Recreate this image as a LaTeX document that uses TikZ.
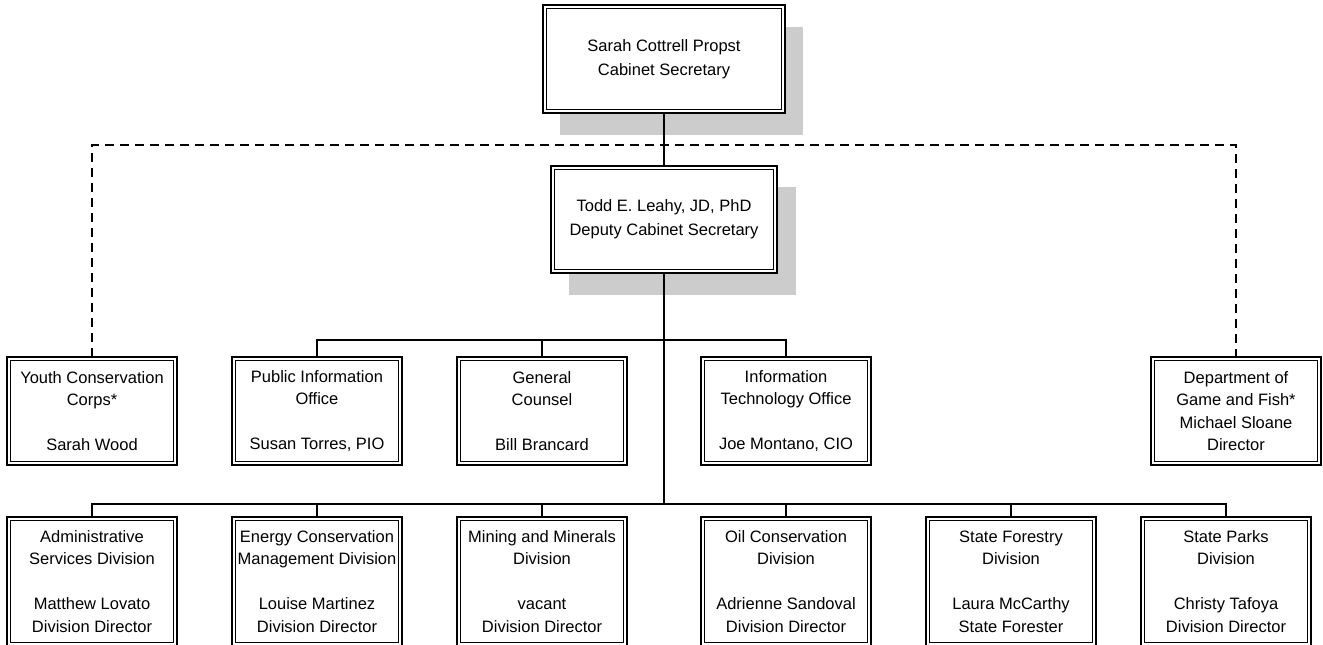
\documentclass[tikz,border=0pt]{standalone}
\usepackage{fontspec}
\setmainfont{Liberation Sans}
\usetikzlibrary{calc}
\def\innerframe(#1){\draw[line width=0.9bp] ([shift={(3.5bp,-3.5bp)}]#1.north west) rectangle ([shift={(-3.5bp,3.5bp)}]#1.south east);}
\tikzset{
	orgbox/.style={draw, line width=1.6bp, fill=white, inner sep=0pt, outer sep=0pt, align=center,
		minimum width=170bp, minimum height=108bp, font=\fontsize{16.5bp}{22.5bp}\selectfont},
	headbox/.style={orgbox, font=\fontsize{16.5bp}{24bp}\selectfont},
	divbox/.style={orgbox, minimum height=129bp},
	shadowbox/.style={fill=black!20, draw=none},
	link/.style={line width=1.2bp},
	trunk/.style={line width=1.8bp},
	dashlink/.style={line width=1.2bp, dash pattern=on 9bp off 6bp},
}

\begin{document}
\begin{tikzpicture}[x=1bp, y=-1bp]
			%%%%% START %%%%%
			\useasboundingbox (0, 0) rectangle (1323, 645);
			\clip (0, 0) rectangle (1323, 645);
			
			\fill[shadowbox] (560, 27) rectangle (803, 135);
			\fill[shadowbox] (569, 187) rectangle (796, 295);
			
			\node[headbox, minimum width=242bp] (sec) at (664, 59) {Sarah Cottrell Propst\\Cabinet Secretary};
			\node[headbox, minimum width=226bp, minimum height=107bp] (dep) at (664, 219.5) {Todd E. Leahy, JD, PhD\\Deputy Cabinet Secretary};
			
			\node[orgbox] (ycc) at (92, 411) {Youth Conservation\\Corps*\\[22.5bp]Sarah Wood};
			\node[orgbox] (pio) at (317, 411) {Public Information\\Office\\[22.5bp]Susan Torres, PIO};
			\node[orgbox] (gc) at (542, 411) {General\\Counsel\\[22.5bp]Bill Brancard};
			\node[orgbox] (ito) at (786, 411) {Information\\Technology Office\\[22.5bp]Joe Montano, CIO};
			\node[orgbox] (dgf) at (1236, 411) {Department of\\Game and Fish*\\Michael Sloane\\Director};
			
			\node[divbox] (asd) at (92, 581.5) {Administrative\\Services Division\\[22.5bp]Matthew Lovato\\Division Director};
			\node[divbox] (ecm) at (317, 581.5) {Energy Conservation\\Management Division\\[22.5bp]Louise Martinez\\Division Director};
			\node[divbox] (mmd) at (542, 581.5) {Mining and Minerals\\Division\\[22.5bp]vacant\\Division Director};
			\node[divbox] (ocd) at (786, 581.5) {Oil Conservation\\Division\\[22.5bp]Adrienne Sandoval\\Division Director};
			\node[divbox] (sfd) at (1011, 581.5) {State Forestry\\Division\\[22.5bp]Laura McCarthy\\State Forester};
			\node[divbox] (spd) at (1226, 581.5) {State Parks\\Division\\[22.5bp]Christy Tafoya\\Division Director};
			
			\foreach \n in {sec, dep, ycc, pio, gc, ito, dgf, asd, ecm, mmd, ocd, sfd, spd}
				{\innerframe(\n)}
			
			\coordinate (dashbar) at (664, 145);
			\coordinate (midbar) at (664, 340);
			\coordinate (lowbar) at (664, 504);
			
			\draw[link] (sec.south) -- (dep.north);
			\draw[dashlink] (ycc.north) |- (dashbar) -| (dgf.north);
			\draw[trunk] (dep.south) -- (lowbar);
			
			\draw[trunk] (pio.north) |- (midbar);
			\draw[link] (midbar) -| (ito.north);
			\draw[link] (gc.north) |- (midbar);
			
			\draw[trunk] (asd.north) |- (lowbar) -| (spd.north);
			\foreach \n in {ecm, mmd, ocd, sfd}
				\draw[link] (\n.north) |- (lowbar);
			%%%%% END %%%%%
\end{tikzpicture}
\end{document}
